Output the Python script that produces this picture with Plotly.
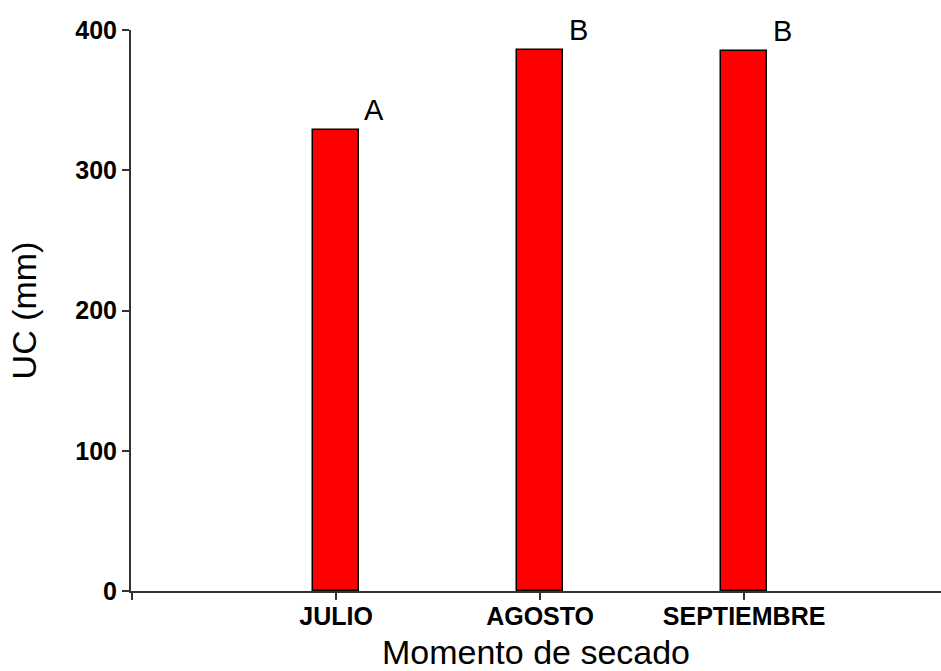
import plotly.graph_objects as go

# Data
months = ["JULIO", "AGOSTO", "SEPTIEMBRE"]
uc_mm = [329, 386, 385]
groups = ["A", "B", "B"]
y_ticks = [0, 100, 200, 300, 400]

positions = list(range(len(months)))

fig = go.Figure()
fig.add_trace(go.Bar(
    x=positions,
    y=uc_mm,
    width=0.225,
    marker=dict(color="#FF0000", line=dict(color="#000000", width=1.5)),
    showlegend=False,
))

# Significance letters beside each bar top
for xi, yi, letter in zip(positions, uc_mm, groups):
    fig.add_annotation(
        x=xi, y=yi, text=letter, showarrow=False,
        xshift=38, yshift=20, xanchor="center", yanchor="middle",
        font=dict(family="Arial, Liberation Sans", size=29, color="#000000"),
    )

axis_font = "Arial, Liberation Sans"
fig.update_layout(
    width=941, height=671,
    margin=dict(l=131, r=0, t=30, b=80),
    paper_bgcolor="white", plot_bgcolor="white",
    font=dict(family=axis_font, color="#000000"),
    bargap=0,
)
fig.update_xaxes(
    range=[-1.005, 2.965],
    tickvals=[-1] + positions,
    ticktext=[""] + months,
    ticks="outside", ticklen=7, tickwidth=2, tickcolor="#333333",
    ticklabelstandoff=-5,
    showline=True, linecolor="#333333", linewidth=2,
    showgrid=False, zeroline=False,
    tickfont=dict(family=axis_font, size=25, color="#000000", weight="bold"),
    title=dict(text="Momento de secado", standoff=11,
               font=dict(family=axis_font, size=34, color="#000000")),
    automargin=False,
)
fig.update_yaxes(
    range=[0, 400],
    tickvals=y_ticks,
    ticks="outside", ticklen=7, tickwidth=2, tickcolor="#333333",
    showline=True, linecolor="#333333", linewidth=2,
    showgrid=False, zeroline=False,
    tickfont=dict(family=axis_font, size=25, color="#000000", weight="bold"),
    title=dict(text="UC (mm)", standoff=28,
               font=dict(family=axis_font, size=34, color="#000000")),
    automargin=False,
)

fig.write_html("out.html")
